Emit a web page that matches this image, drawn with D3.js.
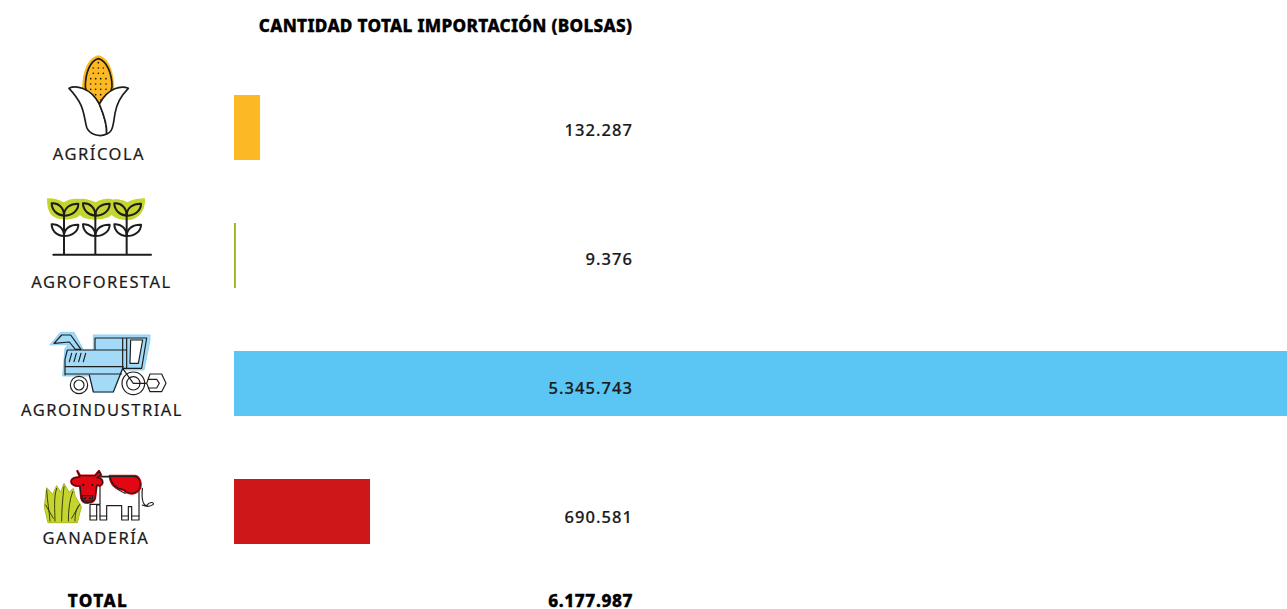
<!DOCTYPE html>
<html><head><meta charset="utf-8">
<style>html,body{margin:0;padding:0;background:#fff;overflow:hidden}svg{display:block}text{font-family:"Noto Sans";fill:#1a1a1a}</style>
<script src="https://cdn.jsdelivr.net/npm/d3@7"></script></head><body>
<script>
const categories=["AGRÍCOLA","AGROFORESTAL","AGROINDUSTRIAL","GANADERÍA"];
const values=[132287,9376,5345743,690581];
const labels=["132.287","9.376","5.345.743","690.581"];
const colors=["#FDB924","#95B422","#5BC5F4","#CD1719"];
const title="CANTIDAD TOTAL IMPORTACIÓN (BOLSAS)";
const totalName="TOTAL", totalLabel="6.177.987";

const svg=d3.select("body").append("svg").attr("width",1287).attr("height",609);
const x=d3.scaleLinear().domain([0,d3.max(values)]).range([234,1287]);
const y=d3.scaleBand().domain(categories).range([95,544]).paddingInner(63/128).paddingOuter(0);

function heavy(t){return t.attr("font-size",17.2).attr("font-weight",800).style("fill","#000").style("stroke","#000").style("stroke-width","0.35px");}

heavy(svg.append("text").attr("x",632.3).attr("y",32).attr("text-anchor","end").style("letter-spacing","0.3px").text(title));

svg.selectAll("rect.bar").data(values).join("rect").attr("class","bar")
 .attr("x",x(0)).attr("y",(d,i)=>y(categories[i])).attr("width",d=>x(d)-x(0)).attr("height",y.bandwidth()).attr("fill",(d,i)=>colors[i]);

svg.selectAll("text.val").data(labels).join("text").attr("class","val")
 .attr("x",633).attr("y",(d,i)=>y(categories[i])+41+i*0.9).attr("text-anchor","end").attr("font-size",16.5).attr("font-weight",500).style("letter-spacing","1.05px").style("stroke","#1a1a1a").style("stroke-width","0.2px").text(d=>d);

svg.selectAll("text.cat").data(categories).join("text").attr("class","cat")
 .attr("x",(d,i)=>[99,101.5,102,96][i]).attr("y",(d,i)=>y(d)+64.6).attr("text-anchor","middle").attr("font-size",16.5).style("letter-spacing","1.5px").style("stroke","#1a1a1a").style("stroke-width","0.2px").text(d=>d);

heavy(svg.append("text").attr("x",98).attr("y",607).attr("text-anchor","middle").style("letter-spacing","1.4px").text(totalName));
heavy(svg.append("text").attr("x",633).attr("y",607).attr("text-anchor","end").style("letter-spacing","0.6px").text(totalLabel));

// Icons: drawn in a 3x pictorial space
const K="#1d1d1b";
function icon(oy){return svg.append("g").attr("transform",`translate(0,${oy}) scale(${1/3})`).attr("fill","none").attr("stroke",K).attr("stroke-width",5).attr("stroke-linejoin","round").attr("stroke-linecap","round");}
function p(g,d,fill,stroke,sw){const e=g.append("path").attr("d",d);if(fill)e.attr("fill",fill);if(stroke)e.attr("stroke",stroke);if(sw)e.attr("stroke-width",sw);return e;}

// corn
{const g=icon(40);
 p(g,"M295 46C262 52 246 100 246 150L295 195L343 150C343 100 328 52 295 46Z",colors[0],"none");
 p(g,"M295 56C270 62 256 100 256 140C256 160 280 180 296 192C312 180 336 160 336 140C336 100 320 62 295 56Z",colors[0]);
 const rows=[[295],[280,295,310],[280,295,310],[272,287,302,318],[272,287,302,318],[272,287,302,318],[272,287,302,318],[287,302]];
 rows.forEach((r,i)=>r.forEach(c=>g.append("circle").attr("cx",c).attr("cy",68+i*16).attr("r",2.5).attr("fill",K).attr("stroke","none")));
 p(g,"M207 145C225 136 270 140 298 192C312 225 322 255 320 282C300 292 268 285 260 262C250 225 255 195 207 145Z","#fff");
 p(g,"M385 145C365 136 325 142 298 192C312 225 322 255 320 282C340 275 340 250 345 220C350 190 365 165 385 145Z","#fff");
}
// plants
{const g=icon(185);
 p(g,"M141 40C170 38 185 50 192 52C205 42 225 40 240 42C260 38 275 48 288 52C300 42 330 38 338 44C355 40 375 48 382 52C400 42 420 40 435 40C436 70 425 95 395 104C375 108 350 104 335 90C320 105 260 112 240 90C225 108 165 110 150 85C142 70 141 55 141 40Z","#C5D52F","none");
 [192,286,380].forEach(c=>{const s=g.append("g").attr("transform",`translate(${c-192},0)`).attr("stroke-width",6);
  p(s,"M192 80V207");
  p(s,"M192 92C170 90 155 75 155 55C175 53 192 68 192 92Z");
  p(s,"M192 92C215 92 235 78 235 56C212 55 192 68 192 92Z");
  p(s,"M192 153C170 152 155 137 155 118C175 116 192 130 192 153Z");
  p(s,"M192 153C215 153 235 140 235 119C212 118 192 130 192 153Z");
 });
 p(g,"M160 209H453",null,null,6);
}
// combine
{const g=icon(320);
 p(g,"M150 74L182 37H222L250 90H280V45H450V60L432 150H368L340 216H280L268 168H188L195 85L205 75L190 74Z","#A3DAF8","#8CCFF5",3);
 g.attr("stroke-width",3.5);
 p(g,"M162 70L185 45H212L243 88L226 88L208 66Z");
 p(g,"M202 90H380M195 140H370M195 162H365M202 90L195 118V165M285 88V54H440L425 145H368V54M380 54V145");
 p(g,"M392 60H428L415 130H390Z","#fff");
 p(g,"M208 125L215 100M222 125L229 100M236 125L243 100M250 125L257 100");
 p(g,"M268 165L280 216H340L368 145");
 g.append("circle").attr("cx",237).attr("cy",195).attr("r",26).attr("fill","#fff");
 g.append("circle").attr("cx",237).attr("cy",195).attr("r",15).attr("fill","#fff");
 g.append("circle").attr("cx",400).attr("cy",190).attr("r",34).attr("fill","#fff");
 g.append("circle").attr("cx",400).attr("cy",190).attr("r",20).attr("fill","#fff");
 p(g,"M368 145L400 190H445");
 p(g,"M450 162H485L498 190L485 215H450L440 190Z","#fff");
 p(g,"M445 178H470L478 190L470 204H445");
}
// cow
{const g=icon(455);
 p(g,"M133 155L140 98L158 118L170 92L182 112L192 85L207 112L220 100L226 125L244 155L232 203H145Z","#C5D52F","#A8B820",3);
 g.attr("stroke-width",3.5);
 p(g,"M150 198C148 170 142 140 140 105M165 198C165 165 160 130 170 100M185 198C185 165 188 130 192 95M205 198C205 170 208 135 218 110M225 198C225 175 230 155 240 148M137 150L160 190M238 150L215 190",null,"#3a3f10",3);
 p(g,"M300 66H330C330 90 345 100 375 115L380 110C392 118 408 110 417 100V195H395V155H385V195H365V152H320V195H300V150H290V195H270V148H300Z","#fff");
 p(g,"M330 64H405C418 66 424 85 420 98C410 118 385 120 372 104C355 102 335 95 330 64Z","#E30613","#E30613",9);
 p(g,"M330 64H405C418 66 424 85 420 98C410 118 385 120 372 104C355 102 335 95 330 64Z");
 p(g,"M290 64H330");
 p(g,"M232 48L240 62H285L297 48L303 60L290 68C310 70 312 85 300 92L290 90L285 130C280 145 250 150 244 130L240 92C225 95 210 88 215 75C220 65 235 68 240 66Z","#E30613","#E30613",7);
 p(g,"M232 48L240 62H285L297 48L303 60L290 68C310 70 312 85 300 92L290 90L285 130C280 145 250 150 244 130L240 92C225 95 210 88 215 75C220 65 235 68 240 66Z");
 p(g,"M245 122H278L276 138H250Z");
 [[250,90],[277,90],[255,130],[270,130]].forEach(c=>g.append("circle").attr("cx",c[0]).attr("cy",c[1]).attr("r",3.5).attr("fill",K).attr("stroke","none"));
 p(g,"M270 183H290M300 183H320M365 183H385M395 183H417");
 p(g,"M427 100C425 125 427 150 440 152C448 140 462 140 460 148C450 156 440 156 427 150");
}
</script></body></html>
